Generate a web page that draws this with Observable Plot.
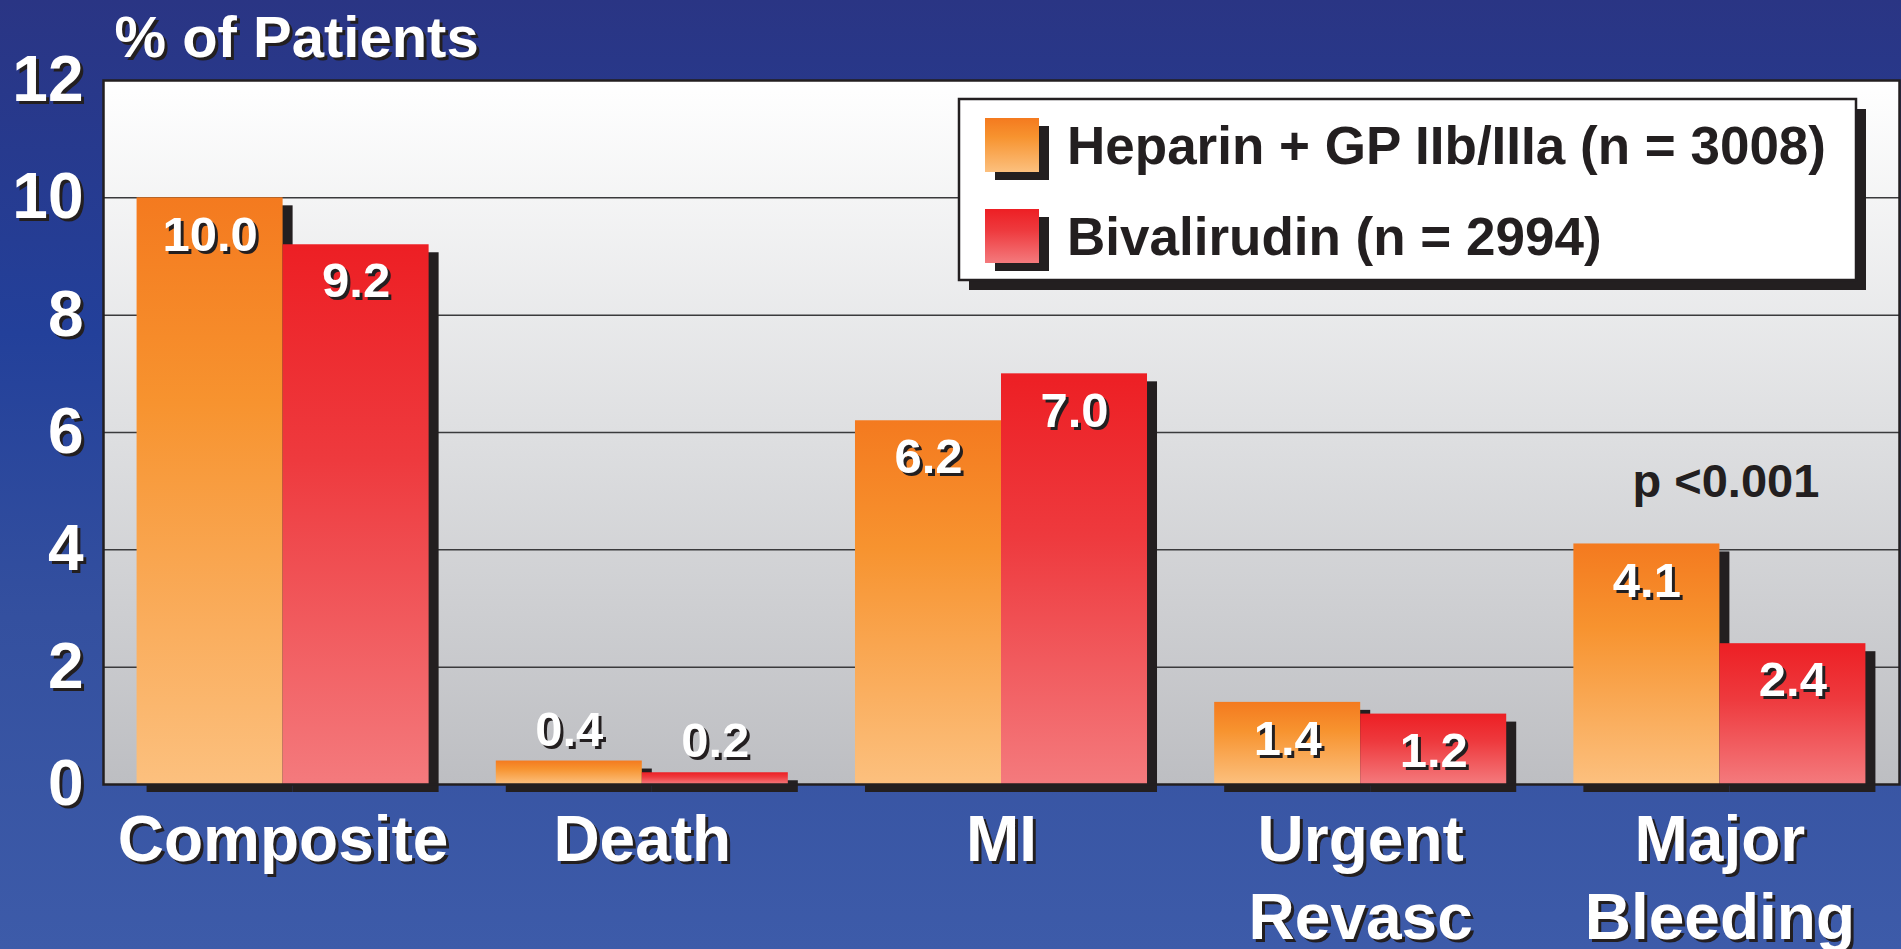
<!DOCTYPE html>
<html>
<head>
<meta charset="utf-8">
<script src="https://cdn.jsdelivr.net/npm/d3@7"></script>
<script src="https://cdn.jsdelivr.net/npm/@observablehq/plot@0.6"></script>
<style>
  html, body { margin: 0; padding: 0; overflow: hidden; background: #2f479c; }
  #chart svg { display: block; }
</style>
</head>
<body>
<div id="chart"></div>
<script>
// ---- data ----
const categories = ["Composite", "Death", "MI", "Urgent Revasc", "Major Bleeding"];
const categoryLabels = ["Composite", "Death", "MI", "Urgent\nRevasc", "Major\nBleeding"];
const heparin = [10.0, 0.4, 6.2, 1.4, 4.1];
const bivalirudin = [9.2, 0.2, 7.0, 1.2, 2.4];
const seriesNames = ["Heparin + GP IIb/IIIa (n = 3008)", "Bivalirudin (n = 2994)"];
const yTicks = [0, 2, 4, 6, 8, 10, 12];
const gridTicks = [2, 4, 6, 8, 10];
const yTitle = "% of Patients";
const pNote = ["p <0.001"];
const pNoteCategory = "Major Bleeding";

// ---- layout / style ----
const W = 1901, H = 949;
const mL = 103, mR = 2, mT = 80, mB = 165;
const FONT = "'Liberation Sans', Arial, Helvetica, sans-serif";
const DARK = "#231f20";
const padInner = 0.187, padOuter = padInner / 2;

const bw = d3.scaleBand(categories, [mL, W - mR]).paddingInner(padInner).paddingOuter(padOuter).bandwidth();
const half = bw / 2;

const hepData = categories.map((c, i) => ({cat: c, value: heparin[i]}));
const bivData = categories.map((c, i) => ({cat: c, value: bivalirudin[i]}));
const fmt = d3.format(".1f");
const sh = 3; // text shadow offset

function whiteText(data, opts) {
  return [
    Plot.text(data, {...opts, fill: DARK, dx: (opts.dx || 0) + sh, dy: (opts.dy || 0) + sh}),
    Plot.text(data, {...opts, fill: "white"})
  ];
}

function valueLabels(data, dx) {
  const base = {x: "cat", y: "value", text: d => fmt(d.value), dx, fontSize: 49, fontWeight: "bold", lineAnchor: "middle"};
  return [
    ...whiteText(data, {...base, filter: d => d.value >= 1, dy: 37}),
    ...whiteText(data, {...base, filter: d => d.value < 1, dy: -31})
  ];
}

const chart = Plot.plot({
  width: W,
  height: H,
  marginLeft: mL,
  marginRight: mR,
  marginTop: mT,
  marginBottom: mB,
  style: {
    background: "linear-gradient(180deg, #2a3584 0%, #23409a 35%, #34509f 65%, #3d5ba9 100%)",
    fontFamily: FONT,
    overflow: "visible"
  },
  x: {type: "band", domain: categories, paddingInner: padInner, paddingOuter: padOuter, round: false, axis: null},
  y: {domain: [0, 12], axis: null},
  marks: [
    Plot.frame({fill: "url(#plotBg)", stroke: "none"}),
    Plot.ruleY(gridTicks, {stroke: "#3a3a3c", strokeWidth: 1.5}),
    // shadows
    Plot.barY(hepData, {x: "cat", y: "value", fill: DARK, insetRight: half, dx: 10, dy: 8}),
    Plot.barY(bivData, {x: "cat", y: "value", fill: DARK, insetLeft: half, dx: 10, dy: 8}),
    // bars
    Plot.barY(hepData, {x: "cat", y: "value", fill: "url(#gradOrange)", insetRight: half}),
    Plot.barY(bivData, {x: "cat", y: "value", fill: "url(#gradRed)", insetLeft: half}),
    Plot.frame({stroke: DARK, strokeWidth: 2.5}),
    // value labels
    ...valueLabels(hepData, -half / 2),
    ...valueLabels(bivData, half / 2),
    // y tick labels
    ...whiteText(yTicks, {y: d => d, text: d => String(d), frameAnchor: "left", textAnchor: "end", dx: -20, fontSize: 64, fontWeight: "bold", lineAnchor: "middle"}),
    // y title
    ...whiteText([yTitle], {text: d => d, frameAnchor: "top-left", textAnchor: "start", dx: 11, dy: -42, fontSize: 58, fontWeight: "bold", lineAnchor: "middle"}),
    // x category labels
    ...whiteText(categories, {x: d => d, text: (d, i) => categoryLabels[i], frameAnchor: "bottom", lineAnchor: "top", dy: 21, fontSize: 64, fontWeight: "bold", lineHeight: 1.22}),
    // p value note above the Major Bleeding pair
    Plot.text(pNote, {x: () => pNoteCategory, y: () => heparin[categories.indexOf(pNoteCategory)], text: d => d, dx: 6, dy: -62, fontSize: 47, fontWeight: "bold", fill: DARK, lineAnchor: "middle"})
  ]
});

// gradients (object-bounding-box, so each bar gets its own)
const svg = d3.select(chart);
const defs = svg.insert("defs", ":first-child");
function vgrad(id, stops) {
  const g = defs.append("linearGradient").attr("id", id).attr("x1", 0).attr("y1", 0).attr("x2", 0).attr("y2", 1);
  stops.forEach(([o, c]) => g.append("stop").attr("offset", o).attr("stop-color", c));
}
vgrad("gradOrange", [[0, "#f47a1f"], [0.35, "#f7932f"], [1, "#fcc07e"]]);
vgrad("gradRed", [[0, "#ed1f24"], [0.4, "#ee3a3e"], [1, "#f47a7d"]]);
vgrad("plotBg", [[0, "#ffffff"], [0.5, "#dedfe1"], [1, "#bdbec2"]]);

// legend (inside the plot area, top-right)
const legend = svg.append("g").attr("font-family", FONT).attr("font-weight", "bold");
const box = {x: 959, y: 99, w: 897, h: 181};
legend.append("rect").attr("x", box.x + 10).attr("y", box.y + 10).attr("width", box.w).attr("height", box.h).attr("fill", DARK);
legend.append("rect").attr("x", box.x).attr("y", box.y).attr("width", box.w).attr("height", box.h).attr("fill", "white").attr("stroke", DARK).attr("stroke-width", 2.5);
const grads = ["url(#gradOrange)", "url(#gradRed)"];
seriesNames.forEach((name, i) => {
  const sy = 118 + i * 91;
  legend.append("rect").attr("x", 985 + 10).attr("y", sy + 8).attr("width", 54).attr("height", 54).attr("fill", DARK);
  legend.append("rect").attr("x", 985).attr("y", sy).attr("width", 54).attr("height", 54).attr("fill", grads[i]);
  legend.append("text").attr("x", 1067).attr("y", sy + 27 + 19).attr("font-size", 53).attr("fill", DARK).attr("text-anchor", "start").text(name);
});

document.getElementById("chart").appendChild(chart);
</script>
</body>
</html>
